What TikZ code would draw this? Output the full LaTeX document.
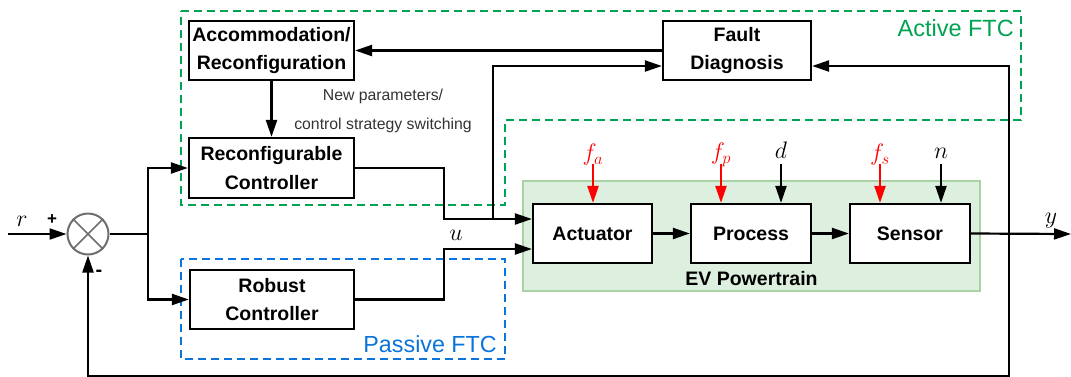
\documentclass[tikz,border=0pt]{standalone}
\usepackage{fontspec}
\newfontfamily\lsans{Liberation Sans}
\usetikzlibrary{arrows.meta,calc}
\definecolor{ftcgreen}{RGB}{0,163,82}
\definecolor{ftcblue}{RGB}{10,116,218}
\definecolor{evfill}{RGB}{221,239,223}
\definecolor{evdraw}{RGB}{168,212,164}
\definecolor{sumgray}{RGB}{110,110,110}
\newcommand{\boxfont}{\lsans\bfseries\fontsize{19.5}{28.5}\selectfont}
\newcommand{\mathlbl}{\fontsize{20.74}{24}\selectfont}
\newcommand{\ml}[1]{\scalebox{1.15}{$#1$}}
\begin{document}
\begin{tikzpicture}[x=1pt,y=-1pt,
  blk/.style={draw, line width=2.2pt, fill=white, font=\boxfont, align=center, inner sep=0pt},
  conn/.style={line width=2.2pt, -{Triangle[length=17pt,width=11pt]}},
  wire/.style={line width=2.2pt},
  redarr/.style={line width=2.2pt, red, -{Triangle[length=17pt,width=11pt]}},
  blkarr/.style={line width=2.2pt, black, -{Triangle[length=17pt,width=11pt]}},
  gdash/.style={draw=ftcgreen, line width=2pt, dash pattern=on 8pt off 5pt},
  bdash/.style={draw=ftcblue, line width=2pt, dash pattern=on 8pt off 5pt},
  mlbl/.style={font=\mathlbl, inner sep=0pt}
]
\useasboundingbox (0,0) rectangle (1071,376);

% regions
\draw[gdash] (181,11) -- (1021,11) -- (1021,120) -- (505,120) -- (505,205) -- (181,205) -- cycle;
\draw[bdash] (181,259) rectangle (505,359);
\node[fill=evfill, draw=evdraw, line width=1.6pt, minimum width=457pt, minimum height=110pt, inner sep=0pt] (ev) at (751.5,236) {};

% labels of regions
\node[text=ftcgreen, font=\lsans\fontsize{23.5}{26}\selectfont, anchor=east, inner sep=0pt] (actlbl) at (1014,28) {Active FTC};
\node[text=ftcblue, font=\lsans\fontsize{23.3}{26}\selectfont, anchor=east, inner sep=0pt] (paslbl) at (497,344) {Passive FTC};
\node[font=\boxfont, inner sep=0pt] (evlbl) at (751.5,279) {EV Powertrain};

% blocks
\node[blk, minimum width=165pt, minimum height=59pt] (acc) at (271.5,50.5) {Accommodation/\\Reconfiguration};
\node[blk, minimum width=165pt, minimum height=60pt] (rec) at (271.5,168) {Reconfigurable\\Controller};
\node[blk, minimum width=164pt, minimum height=59pt] (rob) at (272,299.5) {Robust\\Controller};
\node[blk, minimum width=148pt, minimum height=59pt] (fd) at (737,50.5) {Fault\\Diagnosis};
\node[blk, minimum width=119pt, minimum height=59pt] (act) at (592.5,233.5) {Actuator};
\node[blk, minimum width=120pt, minimum height=59pt] (proc) at (751,233.5) {Process};
\node[blk, minimum width=120pt, minimum height=59pt] (sens) at (910,233.5) {Sensor};

% summing junction
\node[circle, draw=sumgray, line width=2pt, minimum size=41pt, inner sep=0pt] (sum) at (88,234) {};
\draw[sumgray, line width=1.6pt] (sum.north west) -- (sum.south east) (sum.north east) -- (sum.south west);

% text
\node[text=black!80, font=\lsans\fontsize{15.8}{29}\selectfont, align=center, inner sep=0pt] (npar) at (383,110.5) {New parameters/\\control strategy switching};
\node[mlbl] (rl) at (22,221) {\ml{r}};
\node[font=\lsans\bfseries\fontsize{17}{17}\selectfont, inner sep=0pt] (plus) at (52,220) {+};
\node[font=\lsans\bfseries\fontsize{20}{20}\selectfont, inner sep=0pt] (minus) at (99,273) {-};
\node[mlbl] (ul) at (456,235) {\ml{u}};
\node[mlbl] (yl) at (1051,221) {\ml{y}};
\node[mlbl, text=red] (fal) at (593,155) {\ml{f_a}};
\node[mlbl, text=red] (fpl) at (721,155) {\ml{f_p}};
\node[mlbl] (dl) at (781,150) {\ml{d}};
\node[mlbl, text=red] (fsl) at (880,155) {\ml{f_s}};
\node[mlbl] (nl) at (941,153) {\ml{n}};

% coordinates
\coordinate (rin) at (8,234);
\coordinate (j1) at (148,234);
\coordinate (b1) at (493,219);
\coordinate (fb) at (1009,234);
\coordinate (fbb) at (1009,376);
\coordinate (yout) at (1071,234);
\coordinate (fac) at (593,164);
\coordinate (fpc) at (721,164);
\coordinate (dc) at (781,164);
\coordinate (fsc) at (880,164);
\coordinate (nc) at (941,164);

% connectors
\draw[conn] (fd.west) -- (acc.east);
\draw[conn] (acc.south) -- (rec.north);
\draw[conn] (rin) -- (sum.west);
\draw[wire] (sum.east) -- (j1);
\draw[conn] (j1) |- (rec.west);
\draw[conn] (j1) |- (rob.west);
\draw[conn] (rec.east) -- ++(89,0) |- ([yshift=14.5pt]act.west);
\draw[conn] (rob.east) -- ++(89,0) |- ([yshift=-15.5pt]act.west);
\draw[conn] (b1) |- ([yshift=-15.5pt]fd.west);
\draw[conn] (act.east) -- (proc.west);
\draw[conn] (proc.east) -- (sens.west);
\draw[conn] (sens.east) -- (yout);
\draw[conn] (fb) |- ([yshift=-15.5pt]fd.east);
\draw[conn] (fb) -- (fbb) -| (sum.south);

% disturbances and faults
\draw[redarr] (fac) -- (fac |- act.north);
\draw[redarr] (fpc) -- (fpc |- proc.north);
\draw[blkarr] (dc) -- (dc |- proc.north);
\draw[redarr] (fsc) -- (fsc |- sens.north);
\draw[blkarr] (nc) -- (nc |- sens.north);
\end{tikzpicture}
\end{document}
